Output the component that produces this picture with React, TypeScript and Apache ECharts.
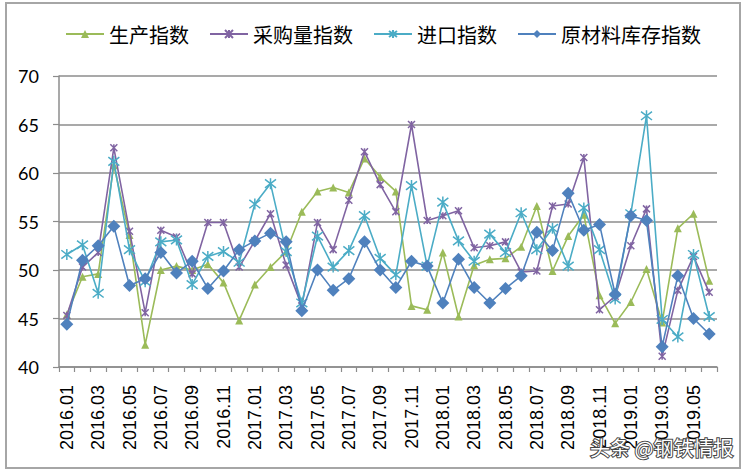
import React, { useEffect, useRef } from "react";
import * as echarts from "echarts";

const categories: string[] = [];
const years = [2016, 2017, 2018, 2019];
for (const y of years) {
  const n = y === 2019 ? 6 : 12;
  for (let m = 1; m <= n; m++) categories.push(`${y}.${m < 10 ? "0" + m : m}`);
}

const seriesNames = ["生产指数", "采购量指数", "进口指数", "原材料库存指数"];

const production = [
  45.4, 49.3, 49.6, 60.8, 53.6, 42.3, 50.0, 50.4, 50.0, 50.6, 48.7, 44.8,
  48.5, 50.3, 51.9, 56.0, 58.1, 58.5, 58.0, 61.5, 59.6, 58.1, 46.3, 45.9,
  51.8, 45.2, 50.5, 51.1, 51.2, 52.4, 56.6, 49.9, 53.5, 55.7, 47.4, 44.5,
  46.7, 50.1, 44.6, 54.3, 55.8, 48.9,
];
const purchase = [
  45.3, 50.3, 51.8, 62.6, 54.0, 45.6, 54.1, 53.4, 49.6, 54.9, 54.9, 50.3,
  53.0, 55.8, 50.5, 46.3, 54.9, 52.1, 57.2, 62.2, 58.8, 56.0, 65.0, 55.1,
  55.6, 56.1, 52.3, 52.5, 52.9, 49.8, 49.9, 56.6, 56.8, 61.6, 45.9, 47.3,
  52.5, 56.3, 41.1, 47.9, 51.4, 47.7,
];
const importIdx = [
  51.6, 52.6, 47.6, 61.2, 52.1, 48.8, 52.9, 53.1, 48.5, 51.4, 51.9, 50.8,
  56.8, 58.9, 51.9, 46.6, 53.5, 50.3, 52.0, 55.6, 51.2, 49.5, 58.7, 50.4,
  57.0, 53.0, 50.9, 53.7, 51.8, 55.9, 52.1, 54.3, 50.4, 56.4, 52.1, 47.0,
  55.8, 65.9, 44.9, 43.1, 51.6, 45.2,
];
const inventory = [
  44.4, 51.0, 52.5, 54.5, 48.4, 49.1, 51.8, 49.7, 50.9, 48.1, 49.9, 52.1,
  53.0, 53.8, 52.9, 45.8, 50.0, 47.9, 49.1, 52.9, 50.0, 48.2, 50.9, 50.4,
  46.6, 51.1, 48.2, 46.6, 48.1, 49.4, 53.9, 52.0, 57.9, 54.1, 54.7, 47.5,
  55.6, 55.1, 42.1, 49.4, 45.0, 43.4,
];

const colors = ["#9bbb59", "#8064a2", "#4bacc6", "#4f81bd"];
const symbols = [
  "triangle",
  "path://M0,0L10,10M10,0L0,10M5,0L5,10",
  "path://M0,0L10,10M10,0L0,10M5,-1.5L5,11.5",
  "diamond",
];
const symbolSizes = [8, 7, 11, 13];

export default function App() {
  const ref = useRef<HTMLDivElement>(null);
  useEffect(() => {
    if (!ref.current) return;
    const chart = echarts.init(ref.current, null, { renderer: "svg" });
    const dataSets = [production, purchase, importIdx, inventory];
    chart.setOption({
      animation: false,
      backgroundColor: "#ffffff",
      legend: {
        top: 19,
        left: 60,
        itemWidth: 38,
        itemHeight: 10,
        itemGap: 20,
        textStyle: {
          fontSize: 20,
          color: "#000",
          fontFamily: "Noto Sans CJK SC",
        },
        data: seriesNames,
      },
      grid: { left: 59, right: 27, top: 76, bottom: 105 },
      xAxis: {
        type: "category",
        data: categories,
        boundaryGap: true,
        axisLine: { lineStyle: { color: "#8c8c8c", width: 1.5 } },
        axisTick: {
          show: true,
          length: 5,
          interval: 0,
          lineStyle: { color: "#8c8c8c", width: 1.2 },
        },
        axisLabel: {
          interval: 1,
          rotate: 90,
          margin: 18,
          fontSize: 18,
          color: "#000",
          fontFamily: "Liberation Sans",
        },
      },
      yAxis: {
        type: "value",
        min: 40,
        max: 70,
        interval: 5,
        axisLine: { show: true, lineStyle: { color: "#8c8c8c", width: 1.5 } },
        axisTick: { show: true, length: 6, lineStyle: { color: "#8c8c8c", width: 1.2 } },
        axisLabel: {
          margin: 20,
          fontSize: 18,
          color: "#000",
          fontFamily: "Lato",
        },
        splitLine: { lineStyle: { color: "#8c8c8c", width: 1.5 } },
      },
      series: seriesNames.map((name, i) => ({
        name,
        type: "line",
        data: dataSets[i],
        symbol: symbols[i],
        symbolSize: symbolSizes[i],
        showAllSymbol: true,
        lineStyle: { color: colors[i], width: 1.6 },
        itemStyle: {
          color: colors[i],
          borderColor: colors[i],
          borderWidth: i === 1 || i === 2 ? 1.5 : 0,
        },
        z: 2 + i,
      })),
      graphic: [
        {
          type: "rect",
          shape: { x: 6, y: 3, width: 734, height: 465 },
          style: { fill: "none", stroke: "#a6a6a6", lineWidth: 2 },
          silent: true,
        },
        {
          type: "text",
          x: 590,
          y: 437,
          style: {
            text: "头条 @钢铁情报",
            fontSize: 20,
            fontFamily: "Noto Sans CJK SC",
            fill: "#ffffff",
            stroke: "#444444",
            lineWidth: 2,
          },
          z: 100,
        },
      ],
    });
    return () => chart.dispose();
  }, []);
  return (
    <div
      ref={ref}
      style={{ position: "absolute", left: 0, top: 0, width: 744, height: 472 }}
    />
  );
}
